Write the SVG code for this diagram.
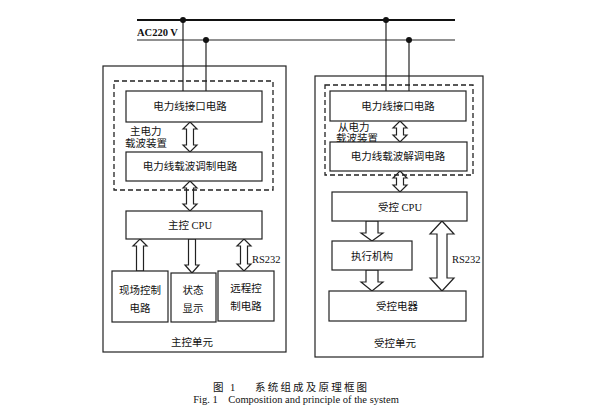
<svg xmlns="http://www.w3.org/2000/svg" width="593" height="407" viewBox="0 0 593 407">
<style>
.box{fill:#fff;stroke:#222;stroke-width:1.2}
.outer{fill:none;stroke:#222;stroke-width:1.2}
.dash{fill:none;stroke:#222;stroke-width:1.3;stroke-dasharray:5,3}
.arr{fill:#fff;stroke:#222;stroke-width:1.2;stroke-linejoin:miter}
.wire{stroke:#222;stroke-width:1.2;fill:none}
.t{font-family:'Liberation Serif','Noto Sans CJK SC',serif;font-size:10.5px;fill:#111;text-anchor:middle}
.tl{font-family:'Liberation Serif','Noto Sans CJK SC',serif;font-size:10.5px;fill:#111}
.dot{fill:#111}
</style>
<rect width="593" height="407" fill="#fff"/>
<g id="bus">
<line x1="137" y1="20" x2="455" y2="20" stroke="#111" stroke-width="2"/>
<line x1="137" y1="40" x2="455" y2="40" stroke="#222" stroke-width="1.2"/>
<text class="tl" x="137" y="36" font-weight="bold" font-size="10">AC220 V</text>
</g>
<g id="connectors">
<line class="wire" x1="183" y1="20" x2="183" y2="91"/>
<line class="wire" x1="206" y1="40" x2="206" y2="91"/>
<line class="wire" x1="386" y1="20" x2="386" y2="91"/>
<line class="wire" x1="409" y1="40" x2="409" y2="91"/>
<circle class="dot" cx="183" cy="20" r="3"/>
<circle class="dot" cx="206" cy="40" r="3"/>
<circle class="dot" cx="386" cy="20" r="3"/>
<circle class="dot" cx="409" cy="40" r="3"/>
<path class="arr" d="M190,122 L197,129 L193.5,129 L193.5,145 L197,145 L190,152 L183,145 L186.5,145 L186.5,129 L183,129 Z"/>
<path class="arr" d="M190,181 L197,188 L193.5,188 L193.5,204 L197,204 L190,211 L183,204 L186.5,204 L186.5,188 L183,188 Z"/>
<path class="arr" d="M140,239 L147,246 L143.5,246 L143.5,271 L136.5,271 L136.5,246 L133,246 Z"/>
<path class="arr" d="M188.5,239 L195.5,239 L195.5,265 L199,265 L192,273 L185,265 L188.5,265 Z"/>
<path class="arr" d="M244,239 L251,246 L247.5,246 L247.5,264 L251,264 L244,271 L237,264 L240.5,264 L240.5,246 L237,246 Z"/>
<path class="arr" d="M400,121 L407,128 L403.5,128 L403.5,135 L407,135 L400,142 L393,135 L396.5,135 L396.5,128 L393,128 Z"/>
<path class="arr" d="M400,171 L407,178 L403.5,178 L403.5,185 L407,185 L400,192 L393,185 L396.5,185 L396.5,178 L393,178 Z"/>
<path class="arr" d="M366,221 L378,221 L378,233 L383,233 L372,241 L361,233 L366,233 Z"/>
<path class="arr" d="M366,270 L378,270 L378,282 L383,282 L372,291 L361,282 L366,282 Z"/>
<path class="arr" d="M442,221 L454,234 L447,234 L447,278 L454,278 L442,291 L430,278 L437,278 L437,234 L430,234 Z"/>
</g>
<g id="master-unit">
<rect class="outer" x="103" y="66" width="183" height="286"/>
<text class="t" x="192" y="346">主控单元</text>
</g>
<g id="master-carrier">
<rect class="dash" x="114" y="81" width="159" height="109"/>
<text class="tl" x="130" y="135">主电力</text>
<text class="tl" x="125" y="147">载波装置</text>
</g>
<g id="m-iface"><rect class="box" x="126" y="91" width="136" height="31"/><text class="t" x="190" y="110">电力线接口电路</text></g>
<g id="m-mod"><rect class="box" x="126" y="152" width="136" height="29"/><text class="t" x="190" y="170">电力线载波调制电路</text></g>
<g id="m-cpu"><rect class="box" x="126" y="211" width="136" height="28"/><text class="t" x="190" y="229">主控 CPU</text></g>
<g id="m-local"><rect class="box" x="112" y="271" width="56" height="51"/><text class="t" x="140" y="294">现场控制</text><text class="t" x="140" y="312">电路</text></g>
<g id="m-status"><rect class="box" x="171" y="273" width="45" height="49"/><text class="t" x="193" y="294">状态</text><text class="t" x="193" y="312">显示</text></g>
<g id="m-remote"><rect class="box" x="218" y="271" width="56" height="50"/><text class="t" x="246" y="292">远程控</text><text class="t" x="246" y="310">制电路</text></g>
<text class="tl" x="252" y="263">RS232</text>
<g id="slave-unit">
<rect class="outer" x="315" y="76" width="168" height="281"/>
<text class="t" x="395" y="347">受控单元</text>
</g>
<g id="slave-carrier">
<rect class="dash" x="325" y="85" width="148" height="90"/>
<text class="tl" x="338" y="131">从电力</text>
<text class="tl" x="336" y="142">载波装置</text>
</g>
<g id="s-iface"><rect class="box" x="330" y="91" width="136" height="30"/><text class="t" x="398" y="110">电力线接口电路</text></g>
<g id="s-demod"><rect class="box" x="330" y="142" width="137" height="29"/><text class="t" x="398" y="160">电力线载波解调电路</text></g>
<g id="s-cpu"><rect class="box" x="332" y="192" width="135" height="29"/><text class="t" x="400" y="211">受控 CPU</text></g>
<g id="s-exec"><rect class="box" x="332" y="241" width="80" height="29"/><text class="t" x="372" y="260">执行机构</text></g>
<g id="s-appliance"><rect class="box" x="329" y="291" width="137" height="30"/><text class="t" x="397" y="310">受控电器</text></g>
<text class="tl" x="452" y="263">RS232</text>
<g id="caption">
<text class="tl" x="213" y="391" font-size="11.5" letter-spacing="2">图 1</text>
<text class="tl" x="255" y="391" font-size="11.5" letter-spacing="2.2">系统组成及原理框图</text>
<text class="t" x="296" y="403" font-size="10">Fig. 1　Composition and principle of the system</text>
</g>
</svg>
